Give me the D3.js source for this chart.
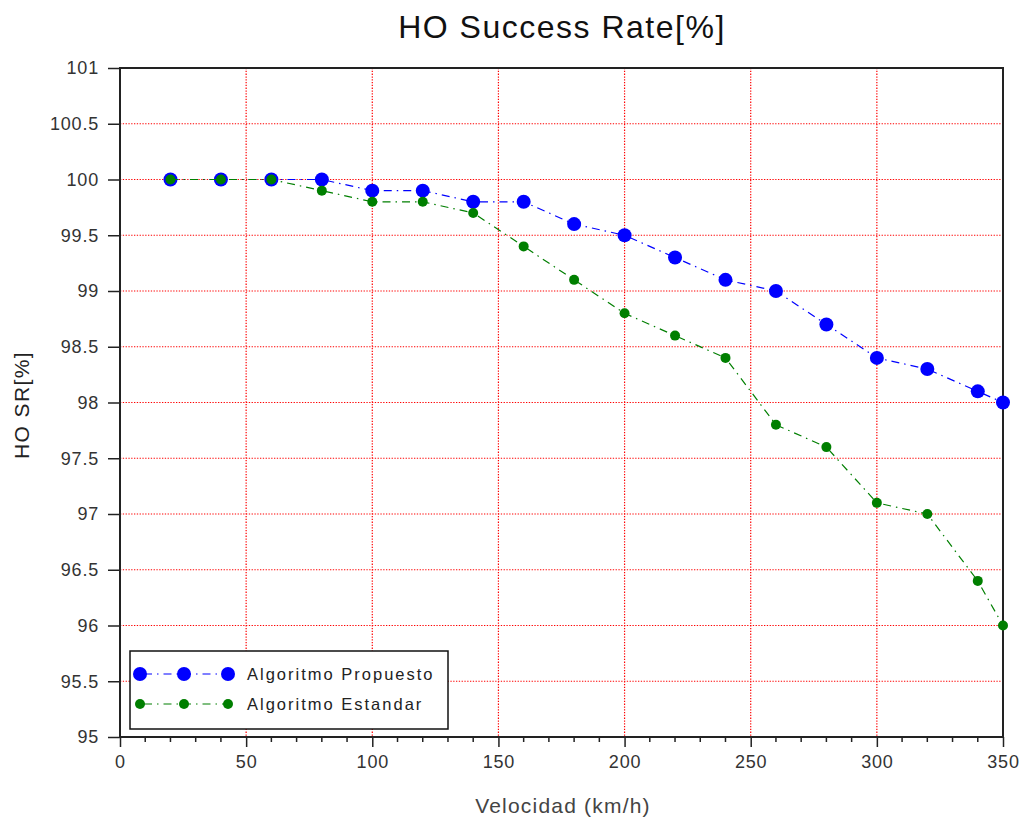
<!DOCTYPE html>
<html>
<head>
<meta charset="utf-8">
<script src="https://cdn.jsdelivr.net/npm/d3@7/dist/d3.min.js"></script>
<style>
  html, body { margin: 0; padding: 0; background: #fff; }
  svg { display: block; font-family: "Liberation Sans", Arial, sans-serif; }
</style>
</head>
<body>
<svg id="chart" width="1024" height="821"></svg>
<script>
// Handover success rate vs. speed for two algorithms
const velocidad = [20, 40, 60, 80, 100, 120, 140, 160, 180, 200, 220, 240, 260, 280, 300, 320, 340, 350];
const propuesto = [100, 100, 100, 100, 99.9, 99.9, 99.8, 99.8, 99.6, 99.5, 99.3, 99.1, 99.0, 98.7, 98.4, 98.3, 98.1, 98.0];
const estandar  = [100, 100, 100, 99.9, 99.8, 99.8, 99.7, 99.4, 99.1, 98.8, 98.6, 98.4, 97.8, 97.6, 97.1, 97.0, 96.4, 96.0];
const xTicks = [0, 50, 100, 150, 200, 250, 300, 350];
const yTicks = [95, 95.5, 96, 96.5, 97, 97.5, 98, 98.5, 99, 99.5, 100, 100.5, 101];

const svg = d3.select("#chart");
const L = 120, R = 1003, T = 68, B = 737;

const x = d3.scaleLinear().domain([0, 350]).range([L, R]);
const y = d3.scaleLinear().domain([95, 101]).range([B, T]);

// grid
const grid = svg.append("g").attr("stroke", "#ff0000").attr("stroke-width", 1.2)
  .attr("stroke-dasharray", "1.3,1.5");
grid.selectAll("line.gx").data(xTicks.slice(1, -1)).join("line")
  .attr("x1", d => x(d)).attr("x2", d => x(d)).attr("y1", T).attr("y2", B);
grid.selectAll("line.gy").data(yTicks.slice(1, -1)).join("line")
  .attr("x1", L).attr("x2", R).attr("y1", d => y(d)).attr("y2", d => y(d));

// axes
const fmt = d => String(d);
const xAxis = d3.axisBottom(x).tickValues(xTicks).tickFormat(fmt).tickSize(10).tickPadding(8);
const yAxis = d3.axisLeft(y).tickValues(yTicks).tickFormat(fmt).tickSize(12).tickPadding(9);

const gx = svg.append("g").attr("transform", `translate(0,${B})`).call(xAxis);
const gy = svg.append("g").attr("transform", `translate(${L},0)`).call(yAxis);
[gx, gy].forEach(g => {
  g.select(".domain").remove();
  g.selectAll("line").attr("stroke", "#222").attr("stroke-width", 1.5);
  g.selectAll("text").attr("fill", "#333").style("font-size", "18px").style("letter-spacing", "0.8px");
});
// minor x ticks
svg.append("g").selectAll("line").data(d3.range(0, 351, 10).filter(v => v % 50 !== 0)).join("line")
  .attr("x1", d => x(d)).attr("x2", d => x(d)).attr("y1", B).attr("y2", B + 5)
  .attr("stroke", "#222").attr("stroke-width", 1.5);

// frame
svg.append("rect").attr("x", L).attr("y", T).attr("width", R - L).attr("height", B - T)
  .attr("fill", "none").attr("stroke", "#222").attr("stroke-width", 2);

// series
const series = [
  { name: "Algoritmo Propuesto", values: propuesto, color: "#0000ff", r: 7 },
  { name: "Algoritmo Estandar", values: estandar, color: "#007f00", r: 5 }
];
const line = d3.line().x(d => x(d[0])).y(d => y(d[1]));
const plot = svg.append("g");
series.forEach(s => {
  const pts = velocidad.map((v, i) => [v, s.values[i]]);
  plot.append("path").datum(pts).attr("d", line)
    .attr("fill", "none").attr("stroke", s.color).attr("stroke-width", 1.2)
    .attr("stroke-dasharray", "8,5,1.5,5");
  plot.append("g").selectAll("circle").data(pts).join("circle")
    .attr("cx", d => x(d[0])).attr("cy", d => y(d[1])).attr("r", s.r)
    .attr("fill", s.color);
});

// legend
const leg = svg.append("g");
leg.append("rect").attr("x", 130).attr("y", 651).attr("width", 318).attr("height", 78)
  .attr("fill", "#fff").attr("stroke", "#111").attr("stroke-width", 1.5);
series.forEach((s, i) => {
  const ly = 674 + i * 30;
  leg.append("line").attr("x1", 140).attr("x2", 228).attr("y1", ly).attr("y2", ly)
    .attr("stroke", s.color).attr("stroke-width", 1.2).attr("stroke-dasharray", "8,5,1.5,5")
    .attr("stroke-dashoffset", -4);
  [140, 184, 228].forEach(cx => leg.append("circle").attr("cx", cx).attr("cy", ly)
    .attr("r", s.r).attr("fill", s.color));
  leg.append("text").attr("x", 247).attr("y", ly + 6).text(s.name)
    .style("font-size", "16.5px").style("letter-spacing", "2px").attr("fill", "#222");
});

// titles
svg.append("text").attr("x", 562).attr("y", 38).attr("text-anchor", "middle")
  .style("font-size", "32px").style("letter-spacing", "1.5px").attr("fill", "#111").text("HO Success Rate[%]");
svg.append("text").attr("x", 563).attr("y", 813).attr("text-anchor", "middle")
  .style("font-size", "21px").style("letter-spacing", "1.2px").attr("fill", "#444").text("Velocidad (km/h)");
svg.append("text").attr("transform", "translate(29,405) rotate(-90)").attr("text-anchor", "middle")
  .style("font-size", "21px").style("letter-spacing", "1.4px").attr("fill", "#222").text("HO SR[%]");
</script>
</body>
</html>
